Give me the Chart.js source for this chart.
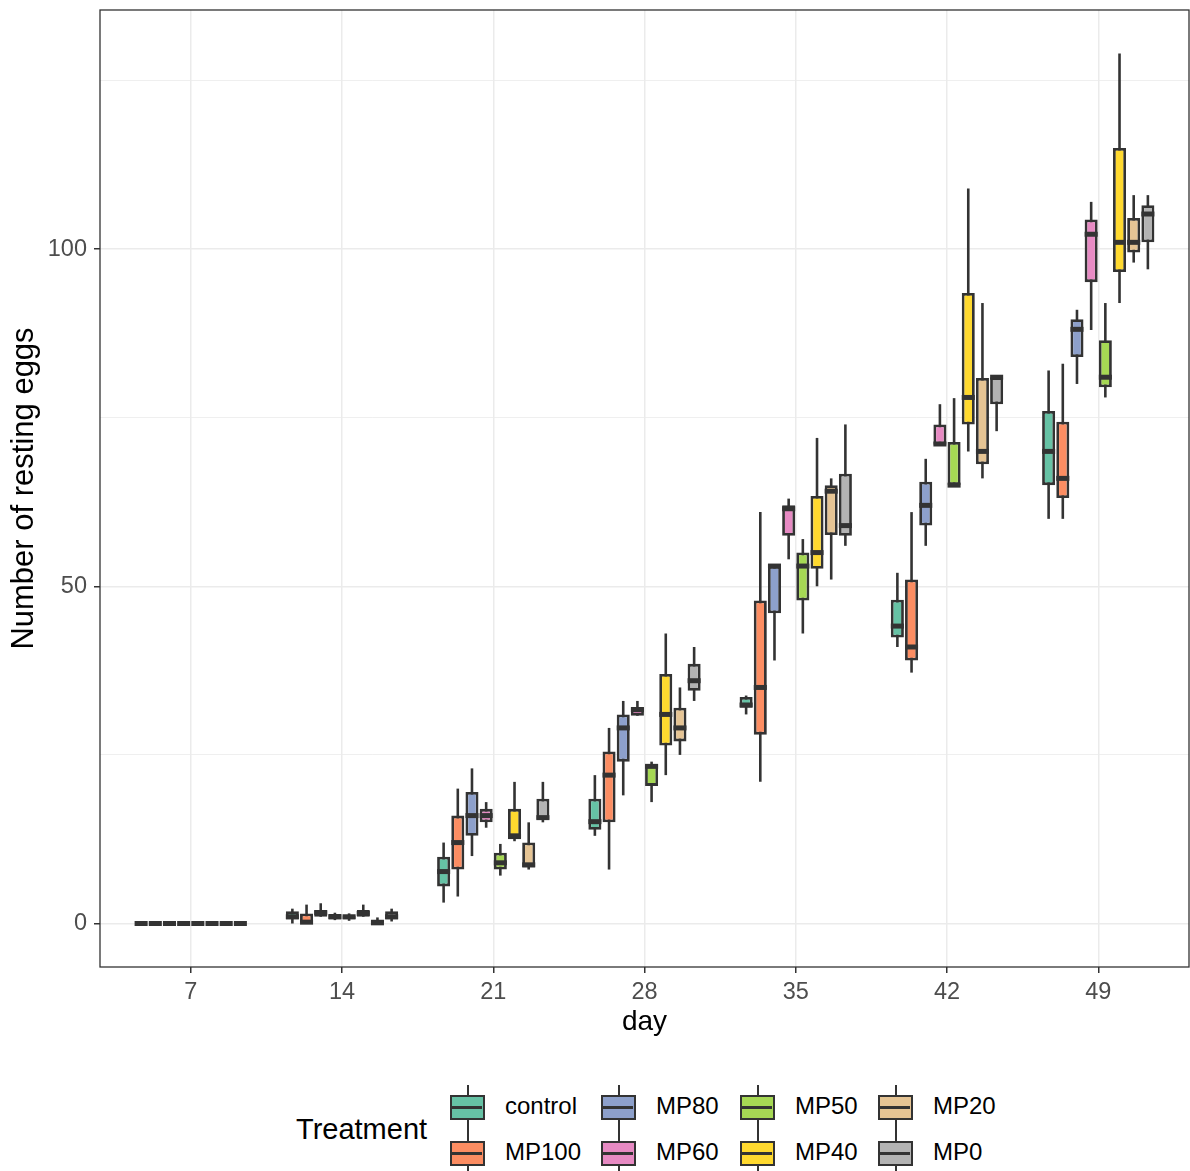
<!DOCTYPE html>
<html>
<head>
<meta charset="utf-8">
<script src="https://cdn.jsdelivr.net/npm/chart.js@4.4.0/dist/chart.umd.min.js"></script>
<style>
  body { margin: 0; background: #fff; font-family: "Liberation Sans", Arial, sans-serif; }
  #wrap { position: relative; width: 1190px; height: 1171px; overflow: hidden; }
  #plot { position: absolute; left: 0; top: 0; width: 1190px; height: 1050px; }
  .ttl { position: absolute; font-size: 29px; color: #000; line-height: 1; }
  .lab { position: absolute; font-size: 24px; color: #000; line-height: 1; }
  .key { position: absolute; width: 36px; height: 46px; }
  .key .wh { position: absolute; left: 17px; width: 2px; top: 0; height: 46px; background: #333; }
  .key .bx { position: absolute; left: 0; top: 10px; width: 31px; height: 21px; border: 2.5px solid #333; }
  .key .md { position: absolute; left: 0; top: 10px; width: 32px; height: 2.5px; background: #333; }
</style>
</head>
<body>
<div id="wrap">
  <div id="plot"><canvas id="chart"></canvas></div>
  <div id="legend"></div>
</div>
<script>
const days = ['7', '14', '21', '28', '35', '42', '49'];
const treatments = ['control', 'MP100', 'MP80', 'MP60', 'MP50', 'MP40', 'MP20', 'MP0'];
const colours = ['#66C2A5', '#FC8D62', '#8DA0CB', '#E78AC3', '#A6D854', '#FFD92F', '#E5C494', '#B3B3B3'];

// per day: [lower whisker, q1, median, q3, upper whisker]
const control = [[0,0,0,0,0],[0,0.6,1,1.8,2.2],[3.1,5.5,7.7,9.9,12],[13,13.9,15.1,18.5,22],[31,32,32.4,33.6,33.8],[41,42.4,44.1,48,52],[60,65,70,76,82]];
const mp100 = [[0,0,0,0,0],[0,0,0.2,1.5,2.8],[4,8,12,16,20],[8,15,22,25.5,29],[21,28,35,47.9,61],[37.2,39,41,51,61],[60,63.1,66,74.4,83]];
const mp80 = [[0,0,0,0,0],[1,1,1.6,2,3],[10,13,16,19.5,23],[19,24,29,31,33],[39,46,53,53,53],[56,59,62,65.5,68.9],[80,84,88.1,89.6,91]];
const mp60 = [[0,0,0,0,0],[0.5,0.6,1,1.4,1.6],[14.2,15,16,17,18],[30.8,30.8,31.7,32.1,33],[54,57.5,61.5,62,63],[71,71,71.1,74,77],[88,95.1,102.2,104.4,107]];
const mp50 = [[0,0,0,0,0],[0.4,0.6,1,1.2,1.5],[7.1,8,9,10.5,11.8],[18,20.4,23.3,23.6,24],[43,47.9,53,55,57],[65,65,65,71.4,77.9],[78,79.5,81,86.5,92]];
const mp40 = [[0,0,0,0,0],[1,1,1.5,2,2.8],[12.2,12.5,13,17,21],[22,26.4,31,37,43],[50,52.6,55,63.4,72],[70,74,78,93.5,109],[92,96.6,101,115,129]];
const mp20 = [[0,0,0,0,0],[0,0,0.1,0.6,0.9],[8,8.3,8.7,12,15],[25,27,29,32,35],[51,57.6,64.1,65,66],[66,68.1,70,80.9,92],[98,99.5,101,104.6,108]];
const mp0 = [[0,0,0,0,0],[0.3,0.6,1,1.8,2.2],[15,15.4,15.7,18.5,21],[33,34.5,36,38.5,41],[56,57.5,59,66.7,74],[73,77,81,81,81],[97,101,105.2,106.5,108]];
const stats = [control, mp100, mp80, mp60, mp50, mp40, mp20, mp0];

const yTicks = [0, 25, 50, 75, 100, 125];

// whiskers under the boxes, medians and panel border on top
const boxplotLines = {
  id: 'boxplotLines',
  beforeDatasetsDraw(chart) {
    const ctx = chart.ctx, y = chart.scales.y;
    ctx.save();
    ctx.strokeStyle = '#333333';
    ctx.lineWidth = 2.6;
    chart.data.datasets.forEach((ds, i) => {
      chart.getDatasetMeta(i).data.forEach((bar, j) => {
        const s = stats[i][j];
        ctx.beginPath();
        ctx.moveTo(bar.x, y.getPixelForValue(s[0]));
        ctx.lineTo(bar.x, y.getPixelForValue(s[4]));
        ctx.stroke();
      });
    });
    ctx.restore();
  },
  afterDatasetsDraw(chart) {
    const ctx = chart.ctx, y = chart.scales.y;
    ctx.save();
    ctx.strokeStyle = '#333333';
    ctx.lineWidth = 5;
    chart.data.datasets.forEach((ds, i) => {
      chart.getDatasetMeta(i).data.forEach((bar, j) => {
        const m = y.getPixelForValue(stats[i][j][2]);
        ctx.beginPath();
        ctx.moveTo(bar.x - bar.width / 2, m);
        ctx.lineTo(bar.x + bar.width / 2, m);
        ctx.stroke();
      });
    });
    ctx.restore();
  },
  afterDraw(chart) {
    const a = chart.chartArea, ctx = chart.ctx;
    ctx.save();
    ctx.strokeStyle = '#333333';
    ctx.lineWidth = 1.3;
    ctx.strokeRect(a.left, a.top, a.right - a.left, a.bottom - a.top);
    ctx.restore();
  }
};

const ctx = document.getElementById('chart');
new Chart(ctx, {
  type: 'bar',
  data: {
    datasets: treatments.map((t, i) => ({
      label: t,
      data: stats[i].map((s, d) => ({ x: d + 1, y: [s[1], s[3]] })),
      backgroundColor: colours[i],
      borderColor: '#333333',
      borderWidth: 2.8,
      borderSkipped: false,
      categoryPercentage: 0.75,
      barPercentage: 0.92,
    })),
  },
  options: {
    responsive: true,
    maintainAspectRatio: false,
    animation: false,
    layout: { padding: { top: 10, right: 1, left: 0, bottom: 0 } },
    plugins: { legend: { display: false }, tooltip: { enabled: false } },
    scales: {
      x: {
        type: 'linear',
        min: 0.4,
        max: 7.6,
        offset: false,
        afterBuildTicks: (scale) => { scale.ticks = days.map((d, i) => ({ value: i + 1 })); },
        afterFit: (scale) => { scale.height = 83; scale.paddingLeft = 0; scale.paddingRight = 0; },
        ticks: {
          callback: (v) => days[v - 1],
          font: { family: 'Liberation Sans', size: 23.5 },
          color: '#4D4D4D',
          padding: 5,
          maxRotation: 0,
        },
        grid: { offset: false, color: '#EBEBEB', lineWidth: 1.5, tickColor: '#333333', tickLength: 6 },
        border: { display: false },
        title: { display: true, text: 'day', font: { family: 'Liberation Sans', size: 28 }, color: '#000', padding: { top: 4, bottom: 11 } },
      },
      y: {
        min: -6.45,
        max: 135.45,
        afterBuildTicks: (scale) => { scale.ticks = yTicks.map(v => ({ value: v })); },
        afterFit: (scale) => { scale.width = 100; scale.paddingTop = 0; scale.paddingBottom = 0; },
        ticks: {
          callback: (v) => (v % 50 === 0 ? String(v) : ''),
          font: { family: 'Liberation Sans', size: 23.5 },
          color: '#4D4D4D',
          padding: 7,
        },
        grid: {
          color: '#EBEBEB',
          lineWidth: (c) => (c.tick && c.tick.value % 50 === 0 ? 1.5 : 0.8),
          tickColor: (c) => (c.tick && c.tick.value % 50 === 0 ? '#333333' : 'rgba(0,0,0,0)'),
          tickLength: 6,
        },
        border: { display: false },
        title: { display: true, text: 'Number of resting eggs', font: { family: 'Liberation Sans', size: 31 }, color: '#000', padding: { top: 6 } },
      },
    },
  },
  plugins: [boxplotLines],
});

// legend, filled column by column like the ggplot guide
const legend = document.getElementById('legend');
const keyX = [450, 601, 740, 878];
const rowY = [1106, 1152];
const ttl = document.createElement('div');
ttl.className = 'ttl';
ttl.textContent = 'Treatment';
ttl.style.left = '296px';
ttl.style.top = (1130 - 15) + 'px';
legend.appendChild(ttl);
treatments.forEach((t, i) => {
  const col = Math.floor(i / 2), row = i % 2;
  const key = document.createElement('div');
  key.className = 'key';
  key.style.left = keyX[col] + 'px';
  key.style.top = (rowY[row] - 21) + 'px';
  key.innerHTML = '<div class="wh"></div><div class="bx" style="background:' + colours[i] + '"></div><div class="md" style="top:21px"></div>';
  legend.appendChild(key);
  const lab = document.createElement('div');
  lab.className = 'lab';
  lab.textContent = t;
  lab.style.left = (keyX[col] + 55) + 'px';
  lab.style.top = (rowY[row] - 12) + 'px';
  legend.appendChild(lab);
});
</script>
</body>
</html>
